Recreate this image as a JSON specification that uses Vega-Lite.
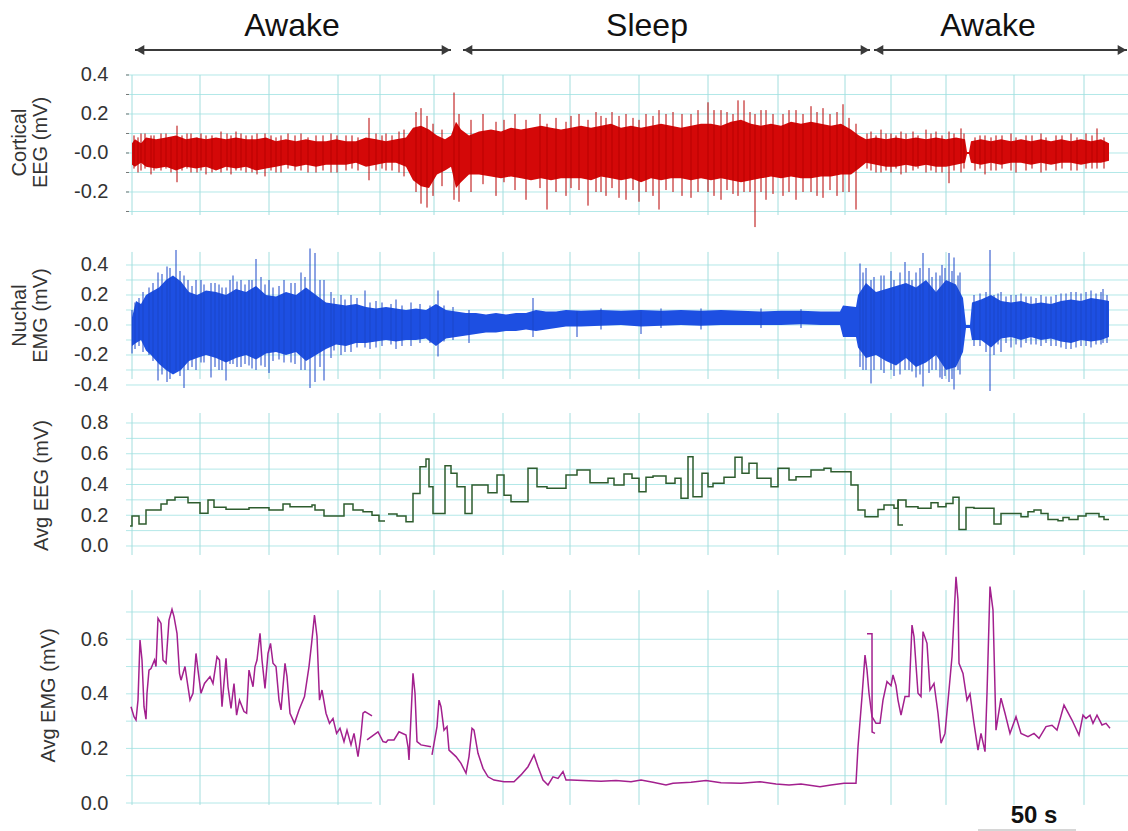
{
"$schema":"https://vega.github.io/schema/vega-lite/v6.json",
"background":"white",
"padding":0,
"spacing":0,
"bounds":"flush",
"config":{"view":{"stroke":null},"font":"Liberation Sans","axis":{"labelFont":"Liberation Sans","titleFont":"Liberation Sans","labelColor":"#333333","titleColor":"#333333","labelFontSize":20,"titleFontSize":20,"titleFontWeight":"normal","domain":false,"grid":false,"ticks":false,"labelOverlap":false,"labelPadding":18}},
"datasets":{
"vgrid":[{"t":0},{"t":34},{"t":68.5},{"t":103},{"t":124},{"t":151},{"t":185.5},{"t":219},{"t":253.5},{"t":288},{"t":323},{"t":356.5},{"t":379.5},{"t":407},{"t":441},{"t":476}],
"h1":[{"v":-0.3},{"v":-0.2},{"v":-0.1},{"v":0},{"v":0.1},{"v":0.2},{"v":0.3},{"v":0.4}],
"h2":[{"v":-0.4},{"v":-0.3},{"v":-0.2},{"v":-0.1},{"v":0},{"v":0.1},{"v":0.2},{"v":0.3},{"v":0.4}],
"h3":[{"v":0},{"v":0.1},{"v":0.2},{"v":0.3},{"v":0.4},{"v":0.5},{"v":0.6},{"v":0.7},{"v":0.8}],
"h4":[{"v":0.1},{"v":0.2},{"v":0.3},{"v":0.4},{"v":0.5},{"v":0.6},{"v":0.7}],
"arrows":[{"a":1.5,"b":159.5},{"a":165.5,"b":369},{"a":371,"b":497.5}],
"heads":[{"t":4,"sh":"triangle-left"},{"t":157,"sh":"triangle-right"},{"t":168,"sh":"triangle-left"},{"t":366.5,"sh":"triangle-right"},{"t":373.5,"sh":"triangle-left"},{"t":495,"sh":"triangle-right"}],
"phases":[{"t":80,"label":"Awake"},{"t":257.5,"label":"Sleep"},{"t":428,"label":"Awake"}],
"eeg":[{"t":0,"hi":0.05,"lo":-0.06},{"t":1.5,"hi":0.07,"lo":-0.07},{"t":4.5,"hi":0.05,"lo":-0.05},{"t":7,"hi":0.08,"lo":-0.07},{"t":12,"hi":0.07,"lo":-0.08},{"t":17,"hi":0.08,"lo":-0.07},{"t":22,"hi":0.09,"lo":-0.09},{"t":27,"hi":0.07,"lo":-0.07},{"t":32,"hi":0.08,"lo":-0.08},{"t":37,"hi":0.07,"lo":-0.07},{"t":42,"hi":0.08,"lo":-0.09},{"t":47,"hi":0.07,"lo":-0.07},{"t":52,"hi":0.08,"lo":-0.08},{"t":57,"hi":0.07,"lo":-0.07},{"t":62,"hi":0.07,"lo":-0.09},{"t":67,"hi":0.08,"lo":-0.08},{"t":72,"hi":0.06,"lo":-0.07},{"t":77,"hi":0.07,"lo":-0.06},{"t":82,"hi":0.06,"lo":-0.07},{"t":87,"hi":0.07,"lo":-0.06},{"t":92,"hi":0.06,"lo":-0.07},{"t":97,"hi":0.06,"lo":-0.06},{"t":102,"hi":0.07,"lo":-0.06},{"t":107,"hi":0.06,"lo":-0.06},{"t":112,"hi":0.06,"lo":-0.05},{"t":117,"hi":0.08,"lo":-0.07},{"t":122,"hi":0.07,"lo":-0.06},{"t":127,"hi":0.06,"lo":-0.05},{"t":132,"hi":0.07,"lo":-0.05},{"t":137,"hi":0.08,"lo":-0.07},{"t":140.5,"hi":0.13,"lo":-0.14},{"t":144.5,"hi":0.14,"lo":-0.17},{"t":148.5,"hi":0.12,"lo":-0.18},{"t":152.5,"hi":0.09,"lo":-0.11},{"t":156.5,"hi":0.07,"lo":-0.09},{"t":159.5,"hi":0.09,"lo":-0.07},{"t":162,"hi":0.16,"lo":-0.18},{"t":164.5,"hi":0.12,"lo":-0.15},{"t":168.5,"hi":0.09,"lo":-0.11},{"t":173.5,"hi":0.11,"lo":-0.11},{"t":179.5,"hi":0.12,"lo":-0.12},{"t":184.5,"hi":0.11,"lo":-0.13},{"t":189.5,"hi":0.13,"lo":-0.12},{"t":194.5,"hi":0.12,"lo":-0.13},{"t":199.5,"hi":0.13,"lo":-0.14},{"t":204.5,"hi":0.14,"lo":-0.13},{"t":209.5,"hi":0.13,"lo":-0.14},{"t":214.5,"hi":0.12,"lo":-0.13},{"t":219.5,"hi":0.13,"lo":-0.13},{"t":224.5,"hi":0.14,"lo":-0.13},{"t":229.5,"hi":0.13,"lo":-0.14},{"t":234.5,"hi":0.14,"lo":-0.12},{"t":239.5,"hi":0.15,"lo":-0.13},{"t":244.5,"hi":0.13,"lo":-0.14},{"t":249.5,"hi":0.14,"lo":-0.13},{"t":254.5,"hi":0.13,"lo":-0.15},{"t":259.5,"hi":0.14,"lo":-0.13},{"t":264.5,"hi":0.15,"lo":-0.14},{"t":269.5,"hi":0.14,"lo":-0.13},{"t":274.5,"hi":0.13,"lo":-0.13},{"t":279.5,"hi":0.14,"lo":-0.14},{"t":284.5,"hi":0.15,"lo":-0.13},{"t":289.5,"hi":0.15,"lo":-0.14},{"t":294.5,"hi":0.14,"lo":-0.13},{"t":299.5,"hi":0.16,"lo":-0.14},{"t":304.5,"hi":0.17,"lo":-0.15},{"t":309.5,"hi":0.15,"lo":-0.14},{"t":314.5,"hi":0.14,"lo":-0.13},{"t":319.5,"hi":0.15,"lo":-0.12},{"t":324.5,"hi":0.14,"lo":-0.13},{"t":329.5,"hi":0.16,"lo":-0.12},{"t":334.5,"hi":0.15,"lo":-0.13},{"t":339.5,"hi":0.16,"lo":-0.13},{"t":344.5,"hi":0.15,"lo":-0.12},{"t":349.5,"hi":0.14,"lo":-0.12},{"t":354.5,"hi":0.15,"lo":-0.11},{"t":359.5,"hi":0.12,"lo":-0.11},{"t":363.5,"hi":0.09,"lo":-0.08},{"t":367,"hi":0.07,"lo":-0.05},{"t":372,"hi":0.08,"lo":-0.06},{"t":377,"hi":0.07,"lo":-0.07},{"t":382,"hi":0.08,"lo":-0.07},{"t":387,"hi":0.07,"lo":-0.06},{"t":392,"hi":0.08,"lo":-0.07},{"t":397,"hi":0.07,"lo":-0.06},{"t":402,"hi":0.08,"lo":-0.07},{"t":407,"hi":0.07,"lo":-0.07},{"t":412,"hi":0.08,"lo":-0.06},{"t":416.5,"hi":0.07,"lo":-0.05},{"t":417.5,"hi":0.005,"lo":-0.005},{"t":418.5,"hi":0.005,"lo":-0.005},{"t":419.5,"hi":0.06,"lo":-0.05},{"t":424.5,"hi":0.07,"lo":-0.06},{"t":429.5,"hi":0.06,"lo":-0.05},{"t":434.5,"hi":0.07,"lo":-0.06},{"t":439.5,"hi":0.06,"lo":-0.05},{"t":444.5,"hi":0.07,"lo":-0.05},{"t":449.5,"hi":0.06,"lo":-0.06},{"t":454.5,"hi":0.07,"lo":-0.05},{"t":459.5,"hi":0.06,"lo":-0.06},{"t":464.5,"hi":0.07,"lo":-0.05},{"t":469.5,"hi":0.06,"lo":-0.05},{"t":474.5,"hi":0.07,"lo":-0.06},{"t":479.5,"hi":0.06,"lo":-0.05},{"t":484.5,"hi":0.07,"lo":-0.05},{"t":488.5,"hi":0.05,"lo":-0.04}],
"eegSpk":[{"t":1,"hi":0.09,"lo":-0.08},{"t":3,"hi":0.08,"lo":-0.1},{"t":4.5,"hi":0.1,"lo":-0.09},{"t":6.5,"hi":0.1,"lo":-0.08},{"t":9.5,"hi":0.09,"lo":-0.11},{"t":11,"hi":0.09,"lo":-0.09},{"t":14.5,"hi":0.1,"lo":-0.09},{"t":17,"hi":0.1,"lo":-0.08},{"t":19.5,"hi":0.08,"lo":-0.1},{"t":22.5,"hi":0.14,"lo":-0.15},{"t":25,"hi":0.09,"lo":-0.09},{"t":27.5,"hi":0.1,"lo":-0.08},{"t":29.5,"hi":0.1,"lo":-0.1},{"t":32.5,"hi":0.08,"lo":-0.1},{"t":34.5,"hi":0.1,"lo":-0.09},{"t":37,"hi":0.09,"lo":-0.11},{"t":40,"hi":0.09,"lo":-0.1},{"t":44.5,"hi":0.11,"lo":-0.1},{"t":47.5,"hi":0.1,"lo":-0.09},{"t":49.5,"hi":0.09,"lo":-0.11},{"t":52,"hi":0.11,"lo":-0.09},{"t":54.5,"hi":0.1,"lo":-0.09},{"t":57,"hi":0.09,"lo":-0.1},{"t":60,"hi":0.09,"lo":-0.1},{"t":62.5,"hi":0.1,"lo":-0.11},{"t":66.5,"hi":0.1,"lo":-0.12},{"t":69.5,"hi":0.09,"lo":-0.09},{"t":72,"hi":0.08,"lo":-0.1},{"t":74.5,"hi":0.09,"lo":-0.1},{"t":78,"hi":0.1,"lo":-0.08},{"t":81.5,"hi":0.09,"lo":-0.09},{"t":84.5,"hi":0.1,"lo":-0.09},{"t":88,"hi":0.08,"lo":-0.1},{"t":92,"hi":0.09,"lo":-0.1},{"t":95.5,"hi":0.09,"lo":-0.09},{"t":99.5,"hi":0.1,"lo":-0.1},{"t":102.5,"hi":0.09,"lo":-0.1},{"t":107,"hi":0.09,"lo":-0.09},{"t":110,"hi":0.09,"lo":-0.08},{"t":113,"hi":0.08,"lo":-0.09},{"t":118.5,"hi":0.18,"lo":-0.14},{"t":122,"hi":0.1,"lo":-0.09},{"t":125,"hi":0.09,"lo":-0.08},{"t":127,"hi":0.1,"lo":-0.09},{"t":130,"hi":0.09,"lo":-0.09},{"t":133.5,"hi":0.11,"lo":-0.1},{"t":136,"hi":0.12,"lo":-0.12},{"t":142,"hi":0.21,"lo":-0.2},{"t":144.5,"hi":0.23,"lo":-0.26},{"t":147.5,"hi":0.19,"lo":-0.28},{"t":150.5,"hi":0.15,"lo":-0.22},{"t":155,"hi":0.12,"lo":-0.17},{"t":161,"hi":0.31,"lo":-0.24},{"t":163.5,"hi":0.2,"lo":-0.25},{"t":169.5,"hi":0.17,"lo":-0.2},{"t":175.5,"hi":0.2,"lo":-0.16},{"t":182,"hi":0.16,"lo":-0.22},{"t":186,"hi":0.17,"lo":-0.15},{"t":191.5,"hi":0.2,"lo":-0.19},{"t":197,"hi":0.17,"lo":-0.24},{"t":204,"hi":0.2,"lo":-0.18},{"t":207.5,"hi":0.15,"lo":-0.29},{"t":212,"hi":0.18,"lo":-0.2},{"t":217,"hi":0.16,"lo":-0.22},{"t":219.5,"hi":0.19,"lo":-0.18},{"t":223.5,"hi":0.2,"lo":-0.19},{"t":228,"hi":0.17,"lo":-0.27},{"t":232,"hi":0.21,"lo":-0.2},{"t":234.5,"hi":0.19,"lo":-0.2},{"t":237,"hi":0.18,"lo":-0.22},{"t":240,"hi":0.21,"lo":-0.18},{"t":243.5,"hi":0.19,"lo":-0.23},{"t":247,"hi":0.2,"lo":-0.24},{"t":250.5,"hi":0.18,"lo":-0.19},{"t":253.5,"hi":0.17,"lo":-0.25},{"t":257,"hi":0.2,"lo":-0.2},{"t":260.5,"hi":0.19,"lo":-0.22},{"t":263.5,"hi":0.22,"lo":-0.29},{"t":267,"hi":0.2,"lo":-0.19},{"t":270.5,"hi":0.21,"lo":-0.2},{"t":275,"hi":0.2,"lo":-0.22},{"t":279.5,"hi":0.2,"lo":-0.23},{"t":283,"hi":0.22,"lo":-0.2},{"t":288,"hi":0.26,"lo":-0.2},{"t":291,"hi":0.22,"lo":-0.22},{"t":294.5,"hi":0.22,"lo":-0.24},{"t":297.5,"hi":0.21,"lo":-0.19},{"t":300.5,"hi":0.2,"lo":-0.21},{"t":303,"hi":0.27,"lo":-0.22},{"t":306,"hi":0.27,"lo":-0.2},{"t":309,"hi":0.21,"lo":-0.2},{"t":311.5,"hi":0.2,"lo":-0.38},{"t":314.5,"hi":0.22,"lo":-0.2},{"t":317,"hi":0.22,"lo":-0.24},{"t":320.5,"hi":0.2,"lo":-0.21},{"t":325.5,"hi":0.2,"lo":-0.22},{"t":328.5,"hi":0.22,"lo":-0.2},{"t":332,"hi":0.22,"lo":-0.24},{"t":335.5,"hi":0.2,"lo":-0.2},{"t":339.5,"hi":0.24,"lo":-0.2},{"t":342.5,"hi":0.21,"lo":-0.22},{"t":345.5,"hi":0.23,"lo":-0.23},{"t":349,"hi":0.2,"lo":-0.19},{"t":352.5,"hi":0.21,"lo":-0.22},{"t":355.5,"hi":0.25,"lo":-0.2},{"t":358.5,"hi":0.18,"lo":-0.2},{"t":362,"hi":0.15,"lo":-0.29},{"t":367.5,"hi":0.1,"lo":-0.08},{"t":369.5,"hi":0.11,"lo":-0.09},{"t":372,"hi":0.09,"lo":-0.1},{"t":374.5,"hi":0.12,"lo":-0.1},{"t":377,"hi":0.1,"lo":-0.09},{"t":379.5,"hi":0.1,"lo":-0.1},{"t":382,"hi":0.09,"lo":-0.08},{"t":384.5,"hi":0.11,"lo":-0.11},{"t":387,"hi":0.1,"lo":-0.1},{"t":390.5,"hi":0.11,"lo":-0.09},{"t":393,"hi":0.09,"lo":-0.08},{"t":397,"hi":0.12,"lo":-0.1},{"t":399.5,"hi":0.1,"lo":-0.09},{"t":402,"hi":0.11,"lo":-0.1},{"t":405,"hi":0.09,"lo":-0.1},{"t":408.5,"hi":0.11,"lo":-0.155},{"t":411,"hi":0.1,"lo":-0.09},{"t":414.5,"hi":0.126,"lo":-0.1},{"t":416,"hi":0.1,"lo":-0.08},{"t":421.5,"hi":0.08,"lo":-0.09},{"t":424,"hi":0.09,"lo":-0.08},{"t":426.5,"hi":0.09,"lo":-0.11},{"t":429.5,"hi":0.08,"lo":-0.09},{"t":432,"hi":0.09,"lo":-0.09},{"t":435,"hi":0.09,"lo":-0.08},{"t":439.5,"hi":0.1,"lo":-0.09},{"t":442,"hi":0.08,"lo":-0.1},{"t":447,"hi":0.09,"lo":-0.09},{"t":450,"hi":0.09,"lo":-0.08},{"t":454.5,"hi":0.1,"lo":-0.1},{"t":457,"hi":0.08,"lo":-0.09},{"t":462,"hi":0.09,"lo":-0.09},{"t":465,"hi":0.09,"lo":-0.08},{"t":469.5,"hi":0.1,"lo":-0.09},{"t":472.5,"hi":0.08,"lo":-0.09},{"t":477,"hi":0.1,"lo":-0.08},{"t":480,"hi":0.09,"lo":-0.08},{"t":482.5,"hi":0.126,"lo":-0.08},{"t":486,"hi":0.08,"lo":-0.08}],
"emg":[{"t":0,"hi":0.05,"lo":-0.14},{"t":2,"hi":0.16,"lo":-0.12},{"t":4.5,"hi":0.14,"lo":-0.1},{"t":7,"hi":0.2,"lo":-0.17},{"t":9.5,"hi":0.22,"lo":-0.2},{"t":13.5,"hi":0.25,"lo":-0.26},{"t":17,"hi":0.3,"lo":-0.3},{"t":20.5,"hi":0.33,"lo":-0.33},{"t":24.5,"hi":0.29,"lo":-0.3},{"t":28.5,"hi":0.22,"lo":-0.24},{"t":32.5,"hi":0.2,"lo":-0.22},{"t":37,"hi":0.23,"lo":-0.2},{"t":42,"hi":0.22,"lo":-0.22},{"t":47,"hi":0.2,"lo":-0.25},{"t":52,"hi":0.24,"lo":-0.22},{"t":57,"hi":0.22,"lo":-0.2},{"t":62,"hi":0.26,"lo":-0.23},{"t":67,"hi":0.2,"lo":-0.19},{"t":72,"hi":0.19,"lo":-0.18},{"t":77,"hi":0.22,"lo":-0.2},{"t":82,"hi":0.2,"lo":-0.18},{"t":87,"hi":0.25,"lo":-0.24},{"t":92,"hi":0.2,"lo":-0.2},{"t":97,"hi":0.15,"lo":-0.16},{"t":102,"hi":0.14,"lo":-0.13},{"t":107,"hi":0.13,"lo":-0.14},{"t":112,"hi":0.14,"lo":-0.12},{"t":117,"hi":0.12,"lo":-0.12},{"t":122,"hi":0.11,"lo":-0.11},{"t":127,"hi":0.12,"lo":-0.1},{"t":132,"hi":0.11,"lo":-0.11},{"t":137,"hi":0.1,"lo":-0.1},{"t":142,"hi":0.11,"lo":-0.1},{"t":147,"hi":0.1,"lo":-0.09},{"t":152,"hi":0.14,"lo":-0.14},{"t":157,"hi":0.1,"lo":-0.09},{"t":162,"hi":0.09,"lo":-0.08},{"t":167,"hi":0.08,"lo":-0.07},{"t":172,"hi":0.08,"lo":-0.06},{"t":177,"hi":0.07,"lo":-0.05},{"t":182,"hi":0.08,"lo":-0.05},{"t":187,"hi":0.07,"lo":-0.04},{"t":192,"hi":0.08,"lo":-0.04},{"t":197,"hi":0.08,"lo":-0.03},{"t":202,"hi":0.1,"lo":-0.04},{"t":207,"hi":0.09,"lo":-0.03},{"t":212,"hi":0.09,"lo":-0.02},{"t":217,"hi":0.1,"lo":-0.01},{"t":224.5,"hi":0.095,"lo":-0.01},{"t":234.5,"hi":0.1,"lo":-0.005},{"t":244.5,"hi":0.095,"lo":0},{"t":254.5,"hi":0.1,"lo":-0.01},{"t":264.5,"hi":0.095,"lo":-0.005},{"t":274.5,"hi":0.1,"lo":0},{"t":284.5,"hi":0.095,"lo":-0.005},{"t":294.5,"hi":0.1,"lo":0},{"t":304.5,"hi":0.095,"lo":0},{"t":314.5,"hi":0.09,"lo":0},{"t":324.5,"hi":0.095,"lo":0},{"t":334.5,"hi":0.095,"lo":0.005},{"t":344.5,"hi":0.09,"lo":0},{"t":354,"hi":0.09,"lo":0},{"t":355.5,"hi":0.13,"lo":-0.08},{"t":362,"hi":0.12,"lo":-0.08},{"t":363,"hi":0.2,"lo":-0.15},{"t":367,"hi":0.28,"lo":-0.22},{"t":372,"hi":0.22,"lo":-0.2},{"t":377,"hi":0.24,"lo":-0.24},{"t":382,"hi":0.26,"lo":-0.27},{"t":387,"hi":0.28,"lo":-0.22},{"t":392,"hi":0.25,"lo":-0.28},{"t":397,"hi":0.3,"lo":-0.25},{"t":402,"hi":0.22,"lo":-0.2},{"t":407,"hi":0.3,"lo":-0.3},{"t":412,"hi":0.27,"lo":-0.28},{"t":415.5,"hi":0.18,"lo":-0.18},{"t":417,"hi":0,"lo":-0.02},{"t":419,"hi":0,"lo":-0.02},{"t":420,"hi":0.15,"lo":-0.1},{"t":424.5,"hi":0.17,"lo":-0.1},{"t":429.5,"hi":0.2,"lo":-0.15},{"t":434.5,"hi":0.16,"lo":-0.09},{"t":439.5,"hi":0.15,"lo":-0.08},{"t":444.5,"hi":0.16,"lo":-0.1},{"t":449.5,"hi":0.14,"lo":-0.08},{"t":454.5,"hi":0.15,"lo":-0.1},{"t":459.5,"hi":0.14,"lo":-0.09},{"t":464.5,"hi":0.16,"lo":-0.11},{"t":469.5,"hi":0.17,"lo":-0.12},{"t":474.5,"hi":0.16,"lo":-0.1},{"t":479.5,"hi":0.18,"lo":-0.11},{"t":484.5,"hi":0.17,"lo":-0.1},{"t":488.5,"hi":0.16,"lo":-0.08}],
"emgSpk":[{"t":0,"hi":0.1,"lo":-0.19},{"t":1.5,"hi":0.15,"lo":-0.16},{"t":3.5,"hi":0.18,"lo":-0.14},{"t":5.5,"hi":0.22,"lo":-0.18},{"t":8.5,"hi":0.25,"lo":-0.2},{"t":10.5,"hi":0.28,"lo":-0.24},{"t":13,"hi":0.35,"lo":-0.37},{"t":15,"hi":0.34,"lo":-0.33},{"t":17.5,"hi":0.39,"lo":-0.38},{"t":19,"hi":0.38,"lo":-0.36},{"t":22,"hi":0.5,"lo":-0.3},{"t":24,"hi":0.36,"lo":-0.34},{"t":26,"hi":0.33,"lo":-0.42},{"t":28,"hi":0.3,"lo":-0.3},{"t":30,"hi":0.26,"lo":-0.28},{"t":32,"hi":0.3,"lo":-0.3},{"t":34.5,"hi":0.3,"lo":-0.25},{"t":36,"hi":0.27,"lo":-0.25},{"t":39.5,"hi":0.28,"lo":-0.35},{"t":41.5,"hi":0.28,"lo":-0.28},{"t":43.5,"hi":0.27,"lo":-0.3},{"t":45,"hi":0.25,"lo":-0.3},{"t":47,"hi":0.25,"lo":-0.37},{"t":49,"hi":0.3,"lo":-0.26},{"t":50.5,"hi":0.33,"lo":-0.26},{"t":52.5,"hi":0.29,"lo":-0.28},{"t":54.5,"hi":0.3,"lo":-0.28},{"t":56.5,"hi":0.27,"lo":-0.26},{"t":58.5,"hi":0.3,"lo":-0.27},{"t":60,"hi":0.3,"lo":-0.29},{"t":62,"hi":0.44,"lo":-0.3},{"t":64.5,"hi":0.32,"lo":-0.27},{"t":66.5,"hi":0.27,"lo":-0.28},{"t":68.5,"hi":0.3,"lo":-0.32},{"t":70.5,"hi":0.25,"lo":-0.24},{"t":73.5,"hi":0.26,"lo":-0.23},{"t":76,"hi":0.3,"lo":-0.25},{"t":79.5,"hi":0.28,"lo":-0.25},{"t":81.5,"hi":0.28,"lo":-0.26},{"t":84.5,"hi":0.35,"lo":-0.3},{"t":86.5,"hi":0.32,"lo":-0.3},{"t":89,"hi":0.51,"lo":-0.42},{"t":91.5,"hi":0.48,"lo":-0.38},{"t":94,"hi":0.3,"lo":-0.28},{"t":96,"hi":0.3,"lo":-0.37},{"t":99.5,"hi":0.22,"lo":-0.22},{"t":101,"hi":0.18,"lo":-0.17},{"t":104.5,"hi":0.2,"lo":-0.2},{"t":106.5,"hi":0.17,"lo":-0.18},{"t":109.5,"hi":0.2,"lo":-0.18},{"t":112.5,"hi":0.18,"lo":-0.15},{"t":116.5,"hi":0.23,"lo":-0.15},{"t":119,"hi":0.15,"lo":-0.16},{"t":122,"hi":0.16,"lo":-0.15},{"t":125,"hi":0.15,"lo":-0.14},{"t":129.5,"hi":0.14,"lo":-0.13},{"t":132,"hi":0.17,"lo":-0.16},{"t":135,"hi":0.13,"lo":-0.14},{"t":139.5,"hi":0.15,"lo":-0.14},{"t":144,"hi":0.14,"lo":-0.12},{"t":149,"hi":0.13,"lo":-0.12},{"t":153,"hi":0.23,"lo":-0.21},{"t":156,"hi":0.13,"lo":-0.11},{"t":160.5,"hi":0.12,"lo":-0.1},{"t":168.5,"hi":0.1,"lo":-0.12},{"t":200.5,"hi":0.18,"lo":-0.08},{"t":222.5,"hi":0.09,"lo":-0.08},{"t":234.5,"hi":0.11,"lo":-0.03},{"t":254.5,"hi":0.09,"lo":-0.06},{"t":264.5,"hi":0.11,"lo":-0.02},{"t":284.5,"hi":0.11,"lo":-0.03},{"t":314.5,"hi":0.11,"lo":-0.02},{"t":334.5,"hi":0.105,"lo":-0.02},{"t":364,"hi":0.41,"lo":-0.28},{"t":365.5,"hi":0.35,"lo":-0.3},{"t":367,"hi":0.38,"lo":-0.3},{"t":369.5,"hi":0.3,"lo":-0.39},{"t":371,"hi":0.32,"lo":-0.3},{"t":374.5,"hi":0.33,"lo":-0.3},{"t":376,"hi":0.33,"lo":-0.32},{"t":379.5,"hi":0.36,"lo":-0.3},{"t":381,"hi":0.3,"lo":-0.34},{"t":384,"hi":0.35,"lo":-0.33},{"t":386.5,"hi":0.42,"lo":-0.3},{"t":388.5,"hi":0.36,"lo":-0.3},{"t":390,"hi":0.3,"lo":-0.31},{"t":392,"hi":0.35,"lo":-0.35},{"t":394,"hi":0.38,"lo":-0.33},{"t":395.5,"hi":0.48,"lo":-0.41},{"t":398.5,"hi":0.38,"lo":-0.32},{"t":400,"hi":0.32,"lo":-0.3},{"t":402,"hi":0.35,"lo":-0.3},{"t":404,"hi":0.33,"lo":-0.35},{"t":405,"hi":0.4,"lo":-0.36},{"t":406.5,"hi":0.38,"lo":-0.34},{"t":408.5,"hi":0.48,"lo":-0.38},{"t":410,"hi":0.36,"lo":-0.36},{"t":411,"hi":0.45,"lo":-0.43},{"t":413,"hi":0.33,"lo":-0.3},{"t":414,"hi":0.35,"lo":-0.33},{"t":421,"hi":0.2,"lo":-0.14},{"t":424,"hi":0.21,"lo":-0.14},{"t":427,"hi":0.22,"lo":-0.18},{"t":429,"hi":0.5,"lo":-0.44},{"t":431,"hi":0.2,"lo":-0.2},{"t":433,"hi":0.21,"lo":-0.13},{"t":434.5,"hi":0.22,"lo":-0.18},{"t":437,"hi":0.19,"lo":-0.12},{"t":439.5,"hi":0.2,"lo":-0.15},{"t":442,"hi":0.2,"lo":-0.13},{"t":444.5,"hi":0.21,"lo":-0.15},{"t":447,"hi":0.19,"lo":-0.12},{"t":449.5,"hi":0.19,"lo":-0.13},{"t":452,"hi":0.18,"lo":-0.13},{"t":454.5,"hi":0.2,"lo":-0.14},{"t":457,"hi":0.19,"lo":-0.12},{"t":459.5,"hi":0.19,"lo":-0.14},{"t":462,"hi":0.2,"lo":-0.14},{"t":464.5,"hi":0.21,"lo":-0.15},{"t":467,"hi":0.21,"lo":-0.16},{"t":469.5,"hi":0.22,"lo":-0.16},{"t":472,"hi":0.22,"lo":-0.15},{"t":474.5,"hi":0.21,"lo":-0.14},{"t":477,"hi":0.22,"lo":-0.14},{"t":479.5,"hi":0.23,"lo":-0.15},{"t":482,"hi":0.21,"lo":-0.13},{"t":484.5,"hi":0.22,"lo":-0.13},{"t":485.5,"hi":0.24,"lo":-0.12},{"t":487.5,"hi":0.2,"lo":-0.12}],
"avgEeg":[{"t":-1,"v":0.13,"s":"A"},{"t":0,"v":0.195,"s":"A"},{"t":3.5,"v":0.143,"s":"A"},{"t":7,"v":0.234,"s":"A"},{"t":14.5,"v":0.273,"s":"A"},{"t":17.5,"v":0.299,"s":"A"},{"t":21.5,"v":0.317,"s":"A"},{"t":28,"v":0.282,"s":"A"},{"t":34,"v":0.213,"s":"A"},{"t":38,"v":0.299,"s":"A"},{"t":41,"v":0.252,"s":"A"},{"t":47,"v":0.239,"s":"A"},{"t":58.5,"v":0.249,"s":"A"},{"t":68.5,"v":0.234,"s":"A"},{"t":75.5,"v":0.273,"s":"A"},{"t":79,"v":0.256,"s":"A"},{"t":90,"v":0.266,"s":"A"},{"t":91.5,"v":0.234,"s":"A"},{"t":96,"v":0.195,"s":"A"},{"t":106,"v":0.273,"s":"A"},{"t":110.5,"v":0.234,"s":"A"},{"t":115.5,"v":0.223,"s":"A"},{"t":120,"v":0.2,"s":"A"},{"t":123.5,"v":0.163,"s":"A"},{"t":126.5,"v":0.163,"s":"A"},
{"t":128,"v":0.208,"s":"B"},{"t":132.5,"v":0.195,"s":"B"},{"t":137,"v":0.158,"s":"B"},{"t":140.5,"v":0.342,"s":"B"},{"t":144,"v":0.516,"s":"B"},{"t":147,"v":0.566,"s":"B"},{"t":148.5,"v":0.386,"s":"B"},{"t":150.5,"v":0.212,"s":"B"},{"t":156.5,"v":0.522,"s":"B"},{"t":159.5,"v":0.473,"s":"B"},{"t":162.5,"v":0.386,"s":"B"},{"t":166.5,"v":0.212,"s":"B"},{"t":170,"v":0.397,"s":"B"},{"t":178,"v":0.347,"s":"B"},{"t":182.5,"v":0.462,"s":"B"},{"t":186,"v":0.33,"s":"B"},{"t":189.5,"v":0.288,"s":"B"},{"t":198,"v":0.505,"s":"B"},{"t":202.5,"v":0.386,"s":"B"},{"t":207.5,"v":0.375,"s":"B"},{"t":217,"v":0.462,"s":"B"},{"t":222.5,"v":0.494,"s":"B"},{"t":229,"v":0.412,"s":"B"},{"t":238,"v":0.44,"s":"B"},{"t":241,"v":0.397,"s":"B"},{"t":246,"v":0.468,"s":"B"},{"t":250,"v":0.44,"s":"B"},{"t":253.5,"v":0.353,"s":"B"},{"t":257,"v":0.447,"s":"B"},{"t":260.5,"v":0.455,"s":"B"},{"t":267,"v":0.408,"s":"B"},{"t":271.5,"v":0.44,"s":"B"},{"t":274.5,"v":0.31,"s":"B"},{"t":278,"v":0.581,"s":"B"},{"t":280.5,"v":0.321,"s":"B"},{"t":285,"v":0.473,"s":"B"},{"t":288,"v":0.386,"s":"B"},{"t":290.5,"v":0.408,"s":"B"},{"t":296,"v":0.447,"s":"B"},{"t":301.5,"v":0.577,"s":"B"},{"t":305,"v":0.473,"s":"B"},{"t":308.5,"v":0.538,"s":"B"},{"t":312.5,"v":0.44,"s":"B"},{"t":319.5,"v":0.386,"s":"B"},{"t":323,"v":0.505,"s":"B"},{"t":328.5,"v":0.429,"s":"B"},{"t":332,"v":0.451,"s":"B"},{"t":339.5,"v":0.494,"s":"B"},{"t":346,"v":0.505,"s":"B"},{"t":349.5,"v":0.483,"s":"B"},{"t":359.5,"v":0.397,"s":"B"},{"t":363,"v":0.234,"s":"B"},{"t":366.5,"v":0.19,"s":"B"},{"t":373,"v":0.238,"s":"B"},{"t":376,"v":0.267,"s":"B"},{"t":381,"v":0.245,"s":"B"},{"t":383,"v":0.299,"s":"B"},{"t":387,"v":0.256,"s":"B"},{"t":393,"v":0.245,"s":"B"},{"t":399.5,"v":0.282,"s":"B"},{"t":403,"v":0.256,"s":"B"},{"t":407,"v":0.277,"s":"B"},{"t":410.5,"v":0.317,"s":"B"},{"t":413.5,"v":0.108,"s":"B"},{"t":417,"v":0.251,"s":"B"},{"t":421,"v":0.245,"s":"B"},{"t":431,"v":0.143,"s":"B"},{"t":434.5,"v":0.212,"s":"B"},{"t":444.5,"v":0.191,"s":"B"},{"t":448,"v":0.223,"s":"B"},{"t":451,"v":0.234,"s":"B"},{"t":454.5,"v":0.212,"s":"B"},{"t":458,"v":0.173,"s":"B"},{"t":463,"v":0.165,"s":"B"},{"t":465.5,"v":0.186,"s":"B"},{"t":468.5,"v":0.173,"s":"B"},{"t":473,"v":0.195,"s":"B"},{"t":477,"v":0.212,"s":"B"},{"t":483.5,"v":0.191,"s":"B"},{"t":486,"v":0.173,"s":"B"},{"t":488.5,"v":0.173,"s":"B"},
{"t":383,"v":0.299,"s":"D"},{"t":383.05,"v":0.137,"s":"D"},{"t":385.5,"v":0.137,"s":"D"}],
"avgEmg":[{"t":-0.5,"v":0.353,"s":"1"},{"t":1,"v":0.316,"s":"1"},{"t":2,"v":0.304,"s":"1"},{"t":3,"v":0.377,"s":"1"},{"t":4,"v":0.597,"s":"1"},{"t":5,"v":0.524,"s":"1"},{"t":6,"v":0.353,"s":"1"},{"t":7,"v":0.307,"s":"1"},{"t":7.5,"v":0.402,"s":"1"},{"t":8.5,"v":0.487,"s":"1"},{"t":9.5,"v":0.493,"s":"1"},{"t":11.25,"v":0.524,"s":"1"},{"t":12,"v":0.5,"s":"1"},{"t":13,"v":0.677,"s":"1"},{"t":14.5,"v":0.658,"s":"1"},{"t":15.5,"v":0.524,"s":"1"},{"t":17,"v":0.512,"s":"1"},{"t":18.5,"v":0.67,"s":"1"},{"t":20,"v":0.71,"s":"1"},{"t":21,"v":0.683,"s":"1"},{"t":22.5,"v":0.622,"s":"1"},{"t":23.75,"v":0.475,"s":"1"},{"t":24.5,"v":0.45,"s":"1"},{"t":26.5,"v":0.5,"s":"1"},{"t":27.5,"v":0.45,"s":"1"},{"t":29,"v":0.377,"s":"1"},{"t":30.5,"v":0.402,"s":"1"},{"t":32,"v":0.548,"s":"1"},{"t":33,"v":0.487,"s":"1"},{"t":34.5,"v":0.402,"s":"1"},{"t":36.25,"v":0.438,"s":"1"},{"t":39,"v":0.463,"s":"1"},{"t":40.5,"v":0.438,"s":"1"},{"t":42.5,"v":0.536,"s":"1"},{"t":43.75,"v":0.524,"s":"1"},{"t":45,"v":0.353,"s":"1"},{"t":47,"v":0.53,"s":"1"},{"t":48,"v":0.426,"s":"1"},{"t":49.5,"v":0.347,"s":"1"},{"t":51,"v":0.438,"s":"1"},{"t":52.3,"v":0.322,"s":"1"},{"t":53.75,"v":0.377,"s":"1"},{"t":56,"v":0.335,"s":"1"},{"t":57.3,"v":0.329,"s":"1"},{"t":58.5,"v":0.487,"s":"1"},{"t":60.5,"v":0.426,"s":"1"},{"t":61.5,"v":0.5,"s":"1"},{"t":62.5,"v":0.524,"s":"1"},{"t":64,"v":0.622,"s":"1"},{"t":65,"v":0.524,"s":"1"},{"t":66.5,"v":0.42,"s":"1"},{"t":68,"v":0.548,"s":"1"},{"t":69.25,"v":0.585,"s":"1"},{"t":70.5,"v":0.512,"s":"1"},{"t":72,"v":0.5,"s":"1"},{"t":73.5,"v":0.377,"s":"1"},{"t":74.5,"v":0.341,"s":"1"},{"t":76.5,"v":0.512,"s":"1"},{"t":77.5,"v":0.463,"s":"1"},{"t":79,"v":0.329,"s":"1"},{"t":81.25,"v":0.292,"s":"1"},{"t":83.5,"v":0.341,"s":"1"},{"t":86.25,"v":0.39,"s":"1"},{"t":88.5,"v":0.5,"s":"1"},{"t":89.8,"v":0.585,"s":"1"},{"t":91.25,"v":0.689,"s":"1"},{"t":92.5,"v":0.61,"s":"1"},{"t":93.75,"v":0.377,"s":"1"},{"t":95,"v":0.414,"s":"1"},{"t":97,"v":0.329,"s":"1"},{"t":98.75,"v":0.292,"s":"1"},{"t":100.5,"v":0.31,"s":"1"},{"t":102.3,"v":0.255,"s":"1"},{"t":104,"v":0.274,"s":"1"},{"t":106,"v":0.225,"s":"1"},{"t":107.5,"v":0.267,"s":"1"},{"t":109.5,"v":0.213,"s":"1"},{"t":111,"v":0.255,"s":"1"},{"t":113,"v":0.17,"s":"1"},{"t":114.5,"v":0.25,"s":"1"},{"t":115.5,"v":0.329,"s":"1"},{"t":116.5,"v":0.335,"s":"1"},{"t":120,"v":0.319,"s":"1"},
{"t":117.5,"v":0.231,"s":"2"},{"t":123,"v":0.261,"s":"2"},{"t":125.5,"v":0.225,"s":"2"},{"t":127,"v":0.222,"s":"2"},{"t":128,"v":0.231,"s":"2"},{"t":131,"v":0.231,"s":"2"},{"t":133.5,"v":0.261,"s":"2"},{"t":137,"v":0.249,"s":"2"},{"t":138,"v":0.206,"s":"2"},{"t":138.5,"v":0.158,"s":"2"},{"t":140.5,"v":0.475,"s":"2"},{"t":141.5,"v":0.402,"s":"2"},{"t":142.5,"v":0.225,"s":"2"},{"t":144.5,"v":0.213,"s":"2"},{"t":149.5,"v":0.206,"s":"2"},
{"t":150,"v":0.176,"s":"3"},{"t":152.5,"v":0.28,"s":"3"},{"t":153.5,"v":0.377,"s":"3"},{"t":154.5,"v":0.353,"s":"3"},{"t":156,"v":0.267,"s":"3"},{"t":157.5,"v":0.28,"s":"3"},{"t":158.5,"v":0.194,"s":"3"},{"t":162,"v":0.17,"s":"3"},{"t":164.5,"v":0.145,"s":"3"},{"t":167,"v":0.109,"s":"3"},{"t":168.5,"v":0.17,"s":"3"},{"t":170,"v":0.274,"s":"3"},{"t":171,"v":0.267,"s":"3"},{"t":173,"v":0.182,"s":"3"},{"t":175.5,"v":0.127,"s":"3"},{"t":178,"v":0.096,"s":"3"},{"t":181,"v":0.084,"s":"3"},{"t":186,"v":0.078,"s":"3"},{"t":191,"v":0.078,"s":"3"},{"t":194.5,"v":0.103,"s":"3"},{"t":198,"v":0.133,"s":"3"},{"t":201,"v":0.176,"s":"3"},{"t":203,"v":0.133,"s":"3"},{"t":205.5,"v":0.084,"s":"3"},{"t":208,"v":0.066,"s":"3"},{"t":210.5,"v":0.096,"s":"3"},{"t":213,"v":0.09,"s":"3"},{"t":215.5,"v":0.115,"s":"3"},{"t":217,"v":0.084,"s":"3"},{"t":219.5,"v":0.084,"s":"3"},{"t":225.5,"v":0.082,"s":"3"},{"t":234.5,"v":0.08,"s":"3"},{"t":242,"v":0.082,"s":"3"},{"t":249.5,"v":0.078,"s":"3"},{"t":254.5,"v":0.084,"s":"3"},{"t":260.5,"v":0.076,"s":"3"},{"t":267,"v":0.066,"s":"3"},{"t":270.5,"v":0.072,"s":"3"},{"t":279.5,"v":0.076,"s":"3"},{"t":287,"v":0.082,"s":"3"},{"t":294.5,"v":0.074,"s":"3"},{"t":304.5,"v":0.072,"s":"3"},{"t":314,"v":0.078,"s":"3"},{"t":322,"v":0.07,"s":"3"},{"t":328.5,"v":0.066,"s":"3"},{"t":334.5,"v":0.07,"s":"3"},{"t":344,"v":0.06,"s":"3"},{"t":349.5,"v":0.066,"s":"3"},{"t":356,"v":0.072,"s":"3"},{"t":362,"v":0.072,"s":"3"},{"t":363,"v":0.206,"s":"3"},{"t":365,"v":0.39,"s":"3"},{"t":366.5,"v":0.542,"s":"3"},{"t":367.5,"v":0.487,"s":"3"},{"t":368.5,"v":0.402,"s":"3"},{"t":370,"v":0.316,"s":"3"},{"t":372,"v":0.292,"s":"3"},{"t":374,"v":0.292,"s":"3"},{"t":375.5,"v":0.377,"s":"3"},{"t":377.5,"v":0.445,"s":"3"},{"t":379.5,"v":0.43,"s":"3"},{"t":380.5,"v":0.469,"s":"3"},{"t":382,"v":0.43,"s":"3"},{"t":383,"v":0.377,"s":"3"},{"t":384.5,"v":0.322,"s":"3"},{"t":386.5,"v":0.39,"s":"3"},{"t":388.5,"v":0.39,"s":"3"},{"t":390,"v":0.652,"s":"3"},{"t":391,"v":0.61,"s":"3"},{"t":393,"v":0.402,"s":"3"},{"t":394.5,"v":0.39,"s":"3"},{"t":395.5,"v":0.628,"s":"3"},{"t":397.5,"v":0.585,"s":"3"},{"t":399,"v":0.414,"s":"3"},{"t":401,"v":0.438,"s":"3"},{"t":403,"v":0.329,"s":"3"},{"t":404.5,"v":0.219,"s":"3"},{"t":406.5,"v":0.255,"s":"3"},{"t":408.5,"v":0.414,"s":"3"},{"t":410,"v":0.536,"s":"3"},{"t":412,"v":0.829,"s":"3"},{"t":413,"v":0.744,"s":"3"},{"t":413.5,"v":0.512,"s":"3"},{"t":415.5,"v":0.475,"s":"3"},{"t":417.5,"v":0.377,"s":"3"},{"t":419,"v":0.4,"s":"3"},{"t":421,"v":0.292,"s":"3"},{"t":423,"v":0.194,"s":"3"},{"t":424.5,"v":0.255,"s":"3"},{"t":426.5,"v":0.188,"s":"3"},{"t":427.5,"v":0.402,"s":"3"},{"t":429,"v":0.793,"s":"3"},{"t":430.5,"v":0.707,"s":"3"},{"t":432,"v":0.267,"s":"3"},{"t":434.5,"v":0.384,"s":"3"},{"t":436.5,"v":0.329,"s":"3"},{"t":439,"v":0.255,"s":"3"},{"t":442,"v":0.316,"s":"3"},{"t":444.5,"v":0.255,"s":"3"},{"t":448,"v":0.243,"s":"3"},{"t":451,"v":0.255,"s":"3"},{"t":453.5,"v":0.237,"s":"3"},{"t":457,"v":0.28,"s":"3"},{"t":460,"v":0.285,"s":"3"},{"t":462.5,"v":0.267,"s":"3"},{"t":466,"v":0.359,"s":"3"},{"t":470,"v":0.304,"s":"3"},{"t":473.5,"v":0.249,"s":"3"},{"t":475.5,"v":0.322,"s":"3"},{"t":477,"v":0.31,"s":"3"},{"t":479,"v":0.322,"s":"3"},{"t":480.5,"v":0.292,"s":"3"},{"t":482.5,"v":0.322,"s":"3"},{"t":485,"v":0.286,"s":"3"},{"t":487,"v":0.292,"s":"3"},{"t":489,"v":0.274,"s":"3"},
{"t":367.5,"v":0.62,"s":"4"},{"t":370,"v":0.62,"s":"4"},{"t":370.05,"v":0.26,"s":"4"},{"t":371.5,"v":0.255,"s":"4"}]
},
"vconcat":[
{"width":1003,"height":233,"layer":[
{"data":{"name":"h1"},"mark":{"type":"rule","color":"#b3e8e8","strokeWidth":1},"encoding":{"y":{"field":"v","type":"quantitative","scale":{"domain":[-0.4103,0.7846],"nice":false,"zero":false},"axis":{"title":["Cortical","EEG (mV)"],"values":[-0.2,0,0.2,0.4],"labelExpr":"datum.value > 0.05 ? format(datum.value,'.1f') : datum.value < -0.05 ? '-' + format(-datum.value,'.1f') : '-0.0'","labelOverlap":false,"labelPadding":18,"titleX":-107,"titleY":142,"titleAngle":-90,"titleAlign":"center","titleBaseline":"middle","titleLineHeight":21}}}},
{"data":{"name":"h1"},"mark":{"type":"rule","color":"#777777","strokeWidth":1},"encoding":{"x":{"datum":-3,"type":"quantitative","scale":{"domain":[-3,498.5],"nice":false,"zero":false},"axis":null},"x2":{"datum":-1.5},"y":{"field":"v","type":"quantitative","scale":{"domain":[-0.4103,0.7846],"nice":false,"zero":false}}}},
{"data":{"name":"vgrid"},"mark":{"type":"rule","color":"#a3dede","strokeWidth":1},"encoding":{"x":{"field":"t","type":"quantitative","scale":{"domain":[-3,498.5],"nice":false,"zero":false},"axis":null},"y":{"datum":0.4,"type":"quantitative","scale":{"domain":[-0.4103,0.7846],"nice":false,"zero":false}},"y2":{"datum":-0.318}}},
{"data":{"name":"eeg"},"mark":{"type":"area","color":"#d40808","interpolate":"linear","opacity":1},"encoding":{"x":{"field":"t","type":"quantitative","scale":{"domain":[-3,498.5],"nice":false,"zero":false},"axis":null},"y":{"field":"hi","type":"quantitative","scale":{"domain":[-0.4103,0.7846],"nice":false,"zero":false}},"y2":{"field":"lo"}}},
{"data":{"name":"eegSpk"},"mark":{"type":"rule","color":"#b80000","strokeWidth":1},"encoding":{"x":{"field":"t","type":"quantitative","scale":{"domain":[-3,498.5],"nice":false,"zero":false},"axis":null},"y":{"field":"hi","type":"quantitative","scale":{"domain":[-0.4103,0.7846],"nice":false,"zero":false}},"y2":{"field":"lo"}}},
{"data":{"name":"arrows"},"mark":{"type":"rule","color":"#3a3a3a","strokeWidth":2},"encoding":{"x":{"field":"a","type":"quantitative","scale":{"domain":[-3,498.5],"nice":false,"zero":false},"axis":null},"x2":{"field":"b"},"y":{"datum":0.528,"type":"quantitative","scale":{"domain":[-0.4103,0.7846],"nice":false,"zero":false}}}},
{"data":{"name":"heads"},"mark":{"type":"point","filled":true,"color":"#3a3a3a","opacity":1,"size":100},"encoding":{"x":{"field":"t","type":"quantitative","scale":{"domain":[-3,498.5],"nice":false,"zero":false},"axis":null},"y":{"datum":0.528,"type":"quantitative","scale":{"domain":[-0.4103,0.7846],"nice":false,"zero":false}},"shape":{"field":"sh","type":"nominal","scale":null}}},
{"data":{"name":"phases"},"mark":{"type":"text","fontSize":32,"color":"#111111","align":"center","baseline":"alphabetic","font":"Liberation Sans"},"encoding":{"x":{"field":"t","type":"quantitative","scale":{"domain":[-3,498.5],"nice":false,"zero":false},"axis":null},"y":{"datum":0.6,"type":"quantitative","scale":{"domain":[-0.4103,0.7846],"nice":false,"zero":false}},"text":{"field":"label"}}},
{"data":{"values":[{"t":-65.5}]},"mark":{"type":"rule","color":"white","strokeWidth":0.5},"encoding":{"x":{"field":"t","type":"quantitative","scale":{"domain":[-3,498.5],"nice":false,"zero":false},"axis":null},"y":{"datum":0.2,"type":"quantitative","scale":{"domain":[-0.4103,0.7846],"nice":false,"zero":false}},"y2":{"datum":0.1}}}
]},
{"width":1003,"height":162,"layer":[
{"data":{"name":"h2"},"mark":{"type":"rule","color":"#b3e8e8","strokeWidth":1},"encoding":{"y":{"field":"v","type":"quantitative","scale":{"domain":[-0.4667,0.6133],"nice":false,"zero":false},"axis":{"title":["Nuchal","EMG (mV)"],"values":[-0.4,-0.2,0,0.2,0.4],"labelExpr":"datum.value > 0.05 ? format(datum.value,'.1f') : datum.value < -0.05 ? '-' + format(-datum.value,'.1f') : '-0.0'","labelOverlap":false,"titleX":-107,"titleY":82,"titleAngle":-90,"titleAlign":"center","titleBaseline":"middle","titleLineHeight":21}}}},
{"data":{"name":"vgrid"},"mark":{"type":"rule","color":"#a3dede","strokeWidth":1},"encoding":{"x":{"field":"t","type":"quantitative","scale":{"domain":[-3,498.5],"nice":false,"zero":false},"axis":null},"y":{"datum":0.487,"type":"quantitative","scale":{"domain":[-0.4667,0.6133],"nice":false,"zero":false}},"y2":{"datum":-0.36}}},
{"data":{"name":"emg"},"mark":{"type":"area","color":"#1d4fe2","interpolate":"linear","opacity":1},"encoding":{"x":{"field":"t","type":"quantitative","scale":{"domain":[-3,498.5],"nice":false,"zero":false},"axis":null},"y":{"field":"hi","type":"quantitative","scale":{"domain":[-0.4667,0.6133],"nice":false,"zero":false}},"y2":{"field":"lo"}}},
{"data":{"name":"emgSpk"},"mark":{"type":"rule","color":"#1a46c8","strokeWidth":1},"encoding":{"x":{"field":"t","type":"quantitative","scale":{"domain":[-3,498.5],"nice":false,"zero":false},"axis":null},"y":{"field":"hi","type":"quantitative","scale":{"domain":[-0.4667,0.6133],"nice":false,"zero":false}},"y2":{"field":"lo"}}}
]},
{"width":1003,"height":175,"layer":[
{"data":{"name":"h3"},"mark":{"type":"rule","color":"#b3e8e8","strokeWidth":1},"encoding":{"y":{"field":"v","type":"quantitative","scale":{"domain":[-0.1561,0.9821],"nice":false,"zero":false},"axis":{"title":"Avg EEG (mV)","values":[0,0.2,0.4,0.6,0.8],"labelExpr":"format(datum.value,'.1f')","labelOverlap":false,"titleX":-85,"titleY":90,"titleAngle":-90,"titleAlign":"center","titleBaseline":"middle"}}}},
{"data":{"name":"vgrid"},"mark":{"type":"rule","color":"#a3dede","strokeWidth":1},"encoding":{"x":{"field":"t","type":"quantitative","scale":{"domain":[-3,498.5],"nice":false,"zero":false},"axis":null},"y":{"datum":0.865,"type":"quantitative","scale":{"domain":[-0.1561,0.9821],"nice":false,"zero":false}},"y2":{"datum":-0.0585}}},
{"data":{"name":"avgEeg"},"mark":{"type":"line","color":"#2e5c2e","strokeWidth":1.5,"interpolate":"step-after"},"encoding":{"x":{"field":"t","type":"quantitative","scale":{"domain":[-3,498.5],"nice":false,"zero":false},"axis":null},"y":{"field":"v","type":"quantitative","scale":{"domain":[-0.1561,0.9821],"nice":false,"zero":false}},"detail":{"field":"s","type":"nominal"}}}
]},
{"width":1003,"height":261,"layer":[
{"data":{"name":"h4"},"mark":{"type":"rule","color":"#b3e8e8","strokeWidth":1},"encoding":{"y":{"field":"v","type":"quantitative","scale":{"domain":[-0.1026,0.8538],"nice":false,"zero":false},"axis":{"title":"Avg EMG (mV)","values":[0,0.2,0.4,0.6],"labelExpr":"format(datum.value,'.1f')","labelOverlap":false,"titleX":-78,"titleY":125,"titleAngle":-90,"titleAlign":"center","titleBaseline":"middle"}}}},
{"data":{"values":[{"a":-3,"b":120}]},"mark":{"type":"rule","color":"#b3e8e8","strokeWidth":1},"encoding":{"x":{"field":"a","type":"quantitative","scale":{"domain":[-3,498.5],"nice":false,"zero":false},"axis":null},"x2":{"field":"b"},"y":{"datum":0,"type":"quantitative","scale":{"domain":[-0.1026,0.8538],"nice":false,"zero":false}}}},
{"data":{"name":"vgrid"},"mark":{"type":"rule","color":"#a3dede","strokeWidth":1},"encoding":{"x":{"field":"t","type":"quantitative","scale":{"domain":[-3,498.5],"nice":false,"zero":false},"axis":null},"y":{"datum":0.78,"type":"quantitative","scale":{"domain":[-0.1026,0.8538],"nice":false,"zero":false}},"y2":{"datum":-0.007}}},
{"data":{"name":"avgEmg"},"mark":{"type":"line","color":"#a3208e","strokeWidth":1.5,"interpolate":"linear"},"encoding":{"x":{"field":"t","type":"quantitative","scale":{"domain":[-3,498.5],"nice":false,"zero":false},"axis":null},"y":{"field":"v","type":"quantitative","scale":{"domain":[-0.1026,0.8538],"nice":false,"zero":false}},"detail":{"field":"s","type":"nominal"}}},
{"data":{"values":[{"a":423,"b":472}]},"mark":{"type":"rule","color":"#c8c8c8","strokeWidth":1.5},"encoding":{"x":{"field":"a","type":"quantitative","scale":{"domain":[-3,498.5],"nice":false,"zero":false},"axis":null},"x2":{"field":"b"},"y":{"datum":-0.099,"type":"quantitative","scale":{"domain":[-0.1026,0.8538],"nice":false,"zero":false}}}},
{"data":{"values":[{"t":451,"label":"50 s"}]},"mark":{"type":"text","fontSize":24,"fontWeight":"bold","color":"#111111","align":"center","baseline":"alphabetic","font":"Liberation Sans"},"encoding":{"x":{"field":"t","type":"quantitative","scale":{"domain":[-3,498.5],"nice":false,"zero":false},"axis":null},"y":{"datum":-0.073,"type":"quantitative","scale":{"domain":[-0.1026,0.8538],"nice":false,"zero":false}},"text":{"field":"label"}}}
]}
]
}
